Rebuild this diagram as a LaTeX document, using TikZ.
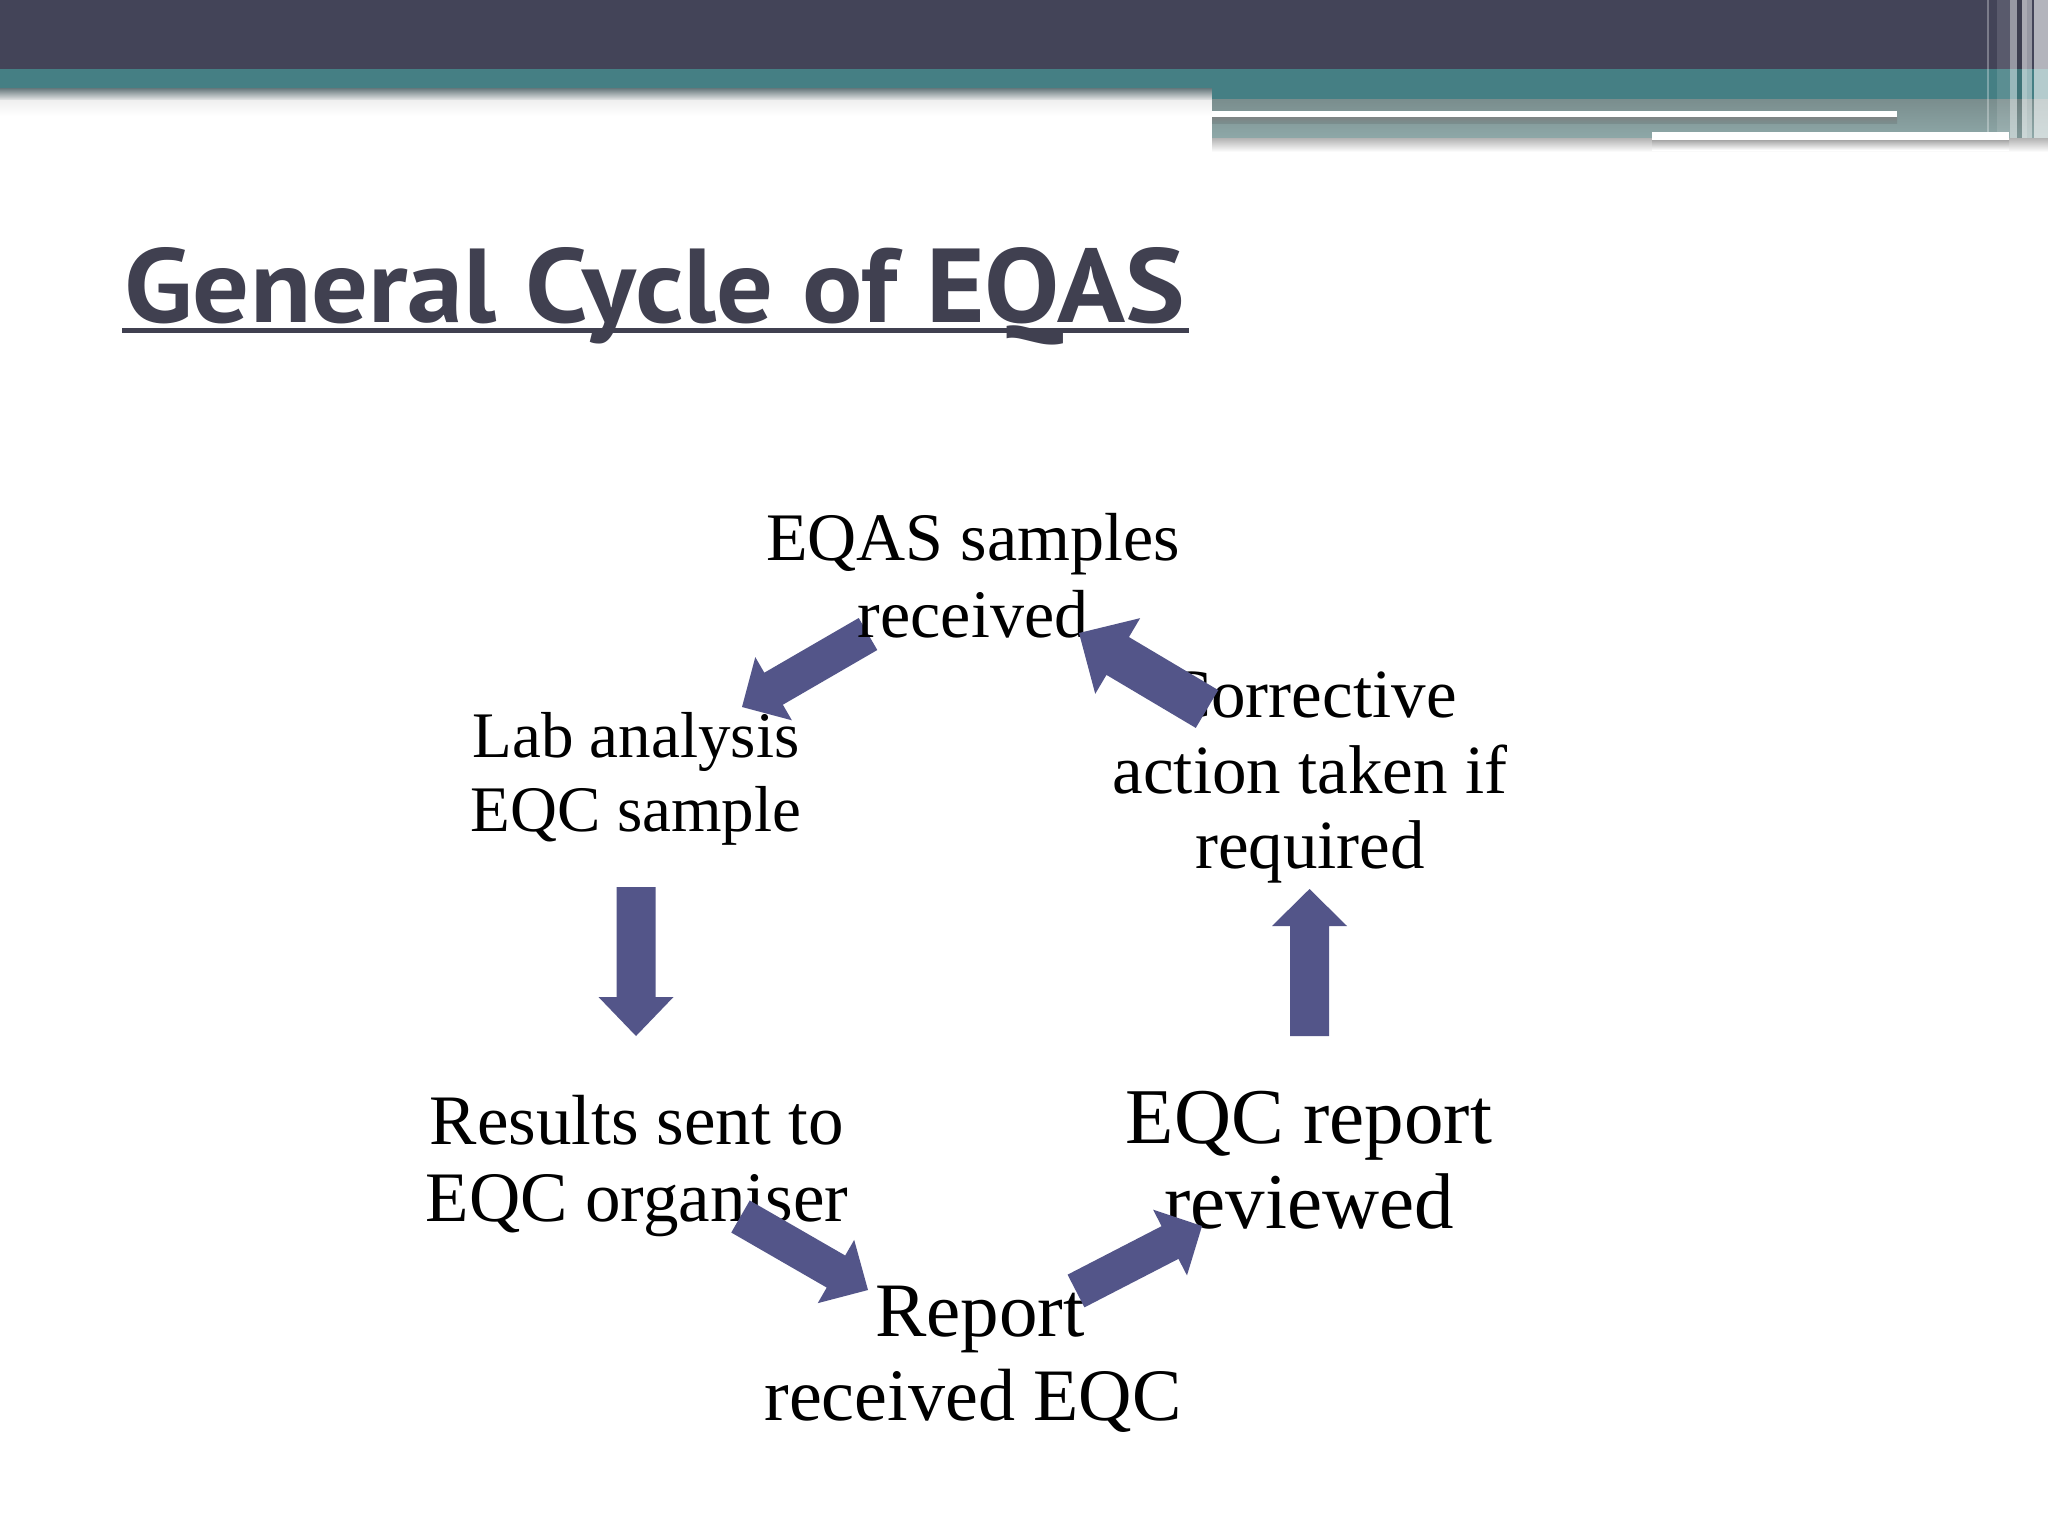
\documentclass[tikz,border=0pt]{standalone}
\usepackage{fontspec}
\usepackage{graphicx}
\setmainfont{Liberation Serif}
\newfontfamily\titlefont{PT Sans}
\usetikzlibrary{calc}

\definecolor{bardark}{RGB}{67,68,88}
\definecolor{barteal}{RGB}{69,127,132}
\definecolor{bargrayA}{RGB}{122,142,142}
\definecolor{bargrayB}{RGB}{142,168,168}
\definecolor{shadowgray}{RGB}{112,128,132}
\definecolor{arrowblue}{RGB}{83,85,137}
\definecolor{titlecol}{RGB}{64,64,80}

\tikzset{
  lbl/.style={anchor=base, inner sep=0pt, text=black},
  arrowfill/.style={fill=arrowblue, draw=none},
}

% block arrow from tail coordinate #1 to tip coordinate #2
% #3 half shaft width, #4 half head width, #5 head length
\newcommand\blockarrow[5]{%
  \coordinate (hb-#1) at ($(#2)!#5!(#1)$);
  \fill[arrowfill]
    ($(#1)!#3!90:(#2)$) -- ($(hb-#1)!#3!90:(#2)$) -- ($(hb-#1)!#4!90:(#2)$)
    -- (#2)
    -- ($(hb-#1)!#4!-90:(#2)$) -- ($(hb-#1)!#3!-90:(#2)$) -- ($(#1)!#3!-90:(#2)$) -- cycle;
}

\begin{document}
\begin{tikzpicture}[x=0.5pt,y=-0.5pt]
\useasboundingbox (0,0) rectangle (2048,1536);
\fill[white] (0,0) rectangle (2048,1536);

% ---- top banner ----
\fill[bardark] (0,0) rectangle (2048,69);
\fill[barteal] (0,69) rectangle (1212,89);
\shade[top color=shadowgray, bottom color=white!88!gray] (0,89) rectangle (1212,101);
\shade[top color=white!88!gray, bottom color=white] (0,101) rectangle (1212,116);
\fill[barteal] (1212,69) rectangle (2048,100);
\shade[top color=bargrayA, bottom color=bargrayB] (1212,100) rectangle (2048,138);
\shade[top color=gray!60, bottom color=white] (1212,138) rectangle (2048,152);
% white rules
\fill[white] (1212,111) rectangle (1897,117);
\shade[top color=gray!70!bargrayA, bottom color=bargrayA] (1212,117) rectangle (1897,123);
\fill[white] (1652,132) rectangle (2009,140);
\shade[top color=gray!70, bottom color=white] (1652,140) rectangle (2009,150);
% right-edge stripes
\fill[white, opacity=.30] (1987,0) rectangle (1989,138);
\fill[white, opacity=.12] (1997,0) rectangle (2010,138);
\fill[white, opacity=.45] (2010,0) rectangle (2017,138);
\fill[black, opacity=.10] (2017,0) rectangle (2022,138);
\fill[white, opacity=.55] (2022,0) rectangle (2027,138);
\fill[white, opacity=.45] (2027,0) rectangle (2032,138);
\fill[white, opacity=.60] (2034,0) rectangle (2048,138);

% ---- title ----
\node[anchor=base west, inner sep=0pt, text=titlecol] (title) at (124,322)
  {\resizebox{530pt}{37.5pt}{\titlefont\bfseries General Cycle of EQAS}};
\fill[titlecol] (122,328) rectangle (1189,333);

% ---- arrow coordinates ----
\coordinate (a1s) at (868,634);   \coordinate (a1e) at (742,707);
\coordinate (a2s) at (636,887);   \coordinate (a2e) at (636,1036);
\coordinate (a3s) at (740.5,1216.5); \coordinate (a3e) at (868,1290);
\coordinate (a4s) at (1076,1291); \coordinate (a4e) at (1202,1226);
\coordinate (a5s) at (1309.5,1036); \coordinate (a5e) at (1309.5,889);
\coordinate (a6s) at (1207,709);  \coordinate (a6e) at (1079,633);

% arrow lying beneath its text
\blockarrow{a1s}{a1e}{9.25pt}{18.25pt}{18.25pt}

% ---- labels ----
\node[lbl, font=\fontsize{34}{38}\selectfont] (t1a) at (973,560) {EQAS samples};
\node[lbl, font=\fontsize{34}{38}\selectfont] (t1b) at (973,637) {received};

\node[lbl, font=\fontsize{32.5}{36}\selectfont] (t2a) at (636,757) {Lab analysis};
\node[lbl, font=\fontsize{32.5}{36}\selectfont] (t2b) at (636,831) {EQC sample};

\node[lbl, font=\fontsize{35.5}{38}\selectfont] (t3a) at (637,1144) {Results sent to};
\node[lbl, font=\fontsize{35.5}{38}\selectfont] (t3b) at (637,1221) {EQC organiser};

\node[lbl, font=\fontsize{38.5}{42}\selectfont] (t4a) at (980,1336) {Report};
\node[lbl, font=\fontsize{37}{42}\selectfont] (t4b) at (973,1420) {received EQC};

\node[lbl, font=\fontsize{39.5}{42}\selectfont] (t5a) at (1309,1143) {EQC report};
\node[lbl, font=\fontsize{39.5}{42}\selectfont] (t5b) at (1309,1228) {reviewed};

\node[lbl, font=\fontsize{34.5}{38}\selectfont] (t6a) at (1311,717) {Corrective};
\node[lbl, font=\fontsize{34.5}{38}\selectfont] (t6b) at (1310,793) {action taken if};
\node[lbl, font=\fontsize{34.5}{38}\selectfont] (t6c) at (1310,868) {required};

% ---- arrows over the text ----
\blockarrow{a2s}{a2e}{9.75pt}{18.75pt}{19.5pt}
\blockarrow{a3s}{a3e}{9.25pt}{18.25pt}{18.5pt}
\blockarrow{a4s}{a4e}{9.2pt}{18.5pt}{18pt}
\blockarrow{a5s}{a5e}{9.75pt}{18.75pt}{18.5pt}
\blockarrow{a6s}{a6e}{11pt}{22pt}{22.5pt}
\end{tikzpicture}
\end{document}
